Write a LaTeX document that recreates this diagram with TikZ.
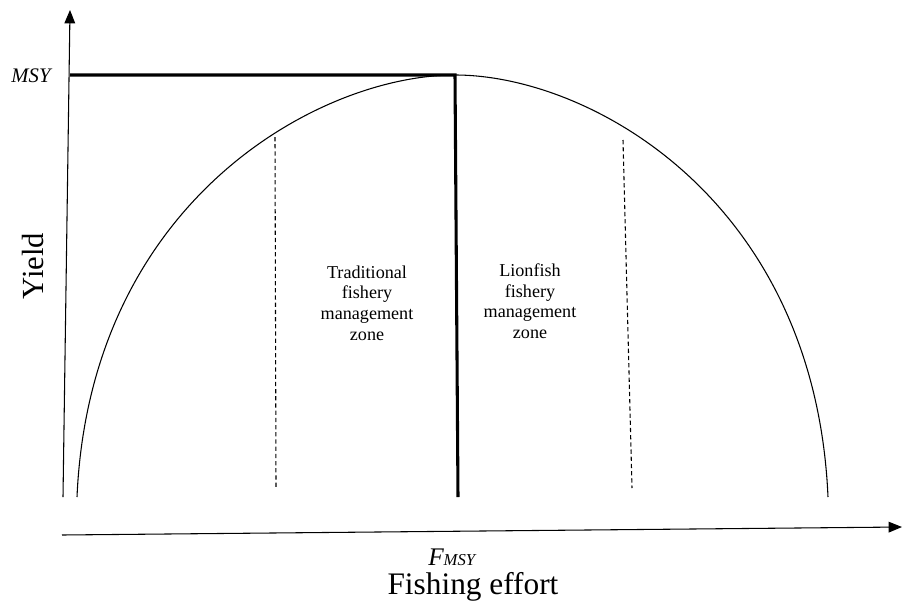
\documentclass[tikz,border=0pt]{standalone}
\usepackage{fontspec}
\setmainfont{Liberation Serif}
\usetikzlibrary{arrows.meta}

\begin{document}
\begin{tikzpicture}[x=0.75pt,y=-0.75pt,axis/.style={line width=0.8pt,-{Triangle[length=10pt,width=8pt]}},thick line/.style={line width=2.3pt},yield curve/.style={line width=0.8pt},zone edge/.style={line width=0.8pt,dash pattern=on 3.2pt off 2.2pt},zone/.style={align=center,font=\fontsize{13.6}{15.4}\selectfont}]
\useasboundingbox (0,0) rectangle (903,611);
\coordinate (Y0) at (63,497);
\coordinate (Y1) at (70,10);
\coordinate (X0) at (62,535);
\coordinate (X1) at (902,527);
\coordinate (M) at (70,75);
\coordinate (P) at (455,75);
\coordinate (Q) at (458,497);
\coordinate (L) at (77,497);
\coordinate (R) at (828,497);
\coordinate (T1) at (275,137);
\coordinate (T2) at (276,487);
\coordinate (F1) at (623,140);
\coordinate (F2) at (632,488);
\draw[axis] (Y0) -- (Y1);
\draw[axis] (X0) -- (X1);
\draw[yield curve] (L) .. controls (90,200) and (320,75) .. (P);
\draw[yield curve] (P) .. controls (590,75) and (815,200) .. (R);
\draw[thick line] (M) -- (P) -- (Q);
\draw[zone edge] (T1) -- (T2);
\draw[zone edge] (F1) -- (F2);
\node[anchor=base,font=\fontsize{15.5}{15.5}\selectfont\itshape] (msy) at (31,82) {MSY};
\node[anchor=base,rotate=90,font=\fontsize{23}{23}\selectfont] (yield) at (43,266) {Yield};
\node[anchor=base west,inner sep=0pt,font=\fontsize{19}{19}\selectfont\itshape] (fmsy) at (428,565) {F{\fontsize{12.5}{12.5}\selectfont MSY}};
\node[anchor=base,inner sep=0pt,font=\fontsize{23.5}{23.5}\selectfont] (effort) at (473,594) {Fishing effort};
\node[zone] (trad) at (367,303) {Traditional\\fishery\\management\\zone};
\node[zone] (lion) at (530,301) {Lionfish\\fishery\\management\\zone};
\end{tikzpicture}
\end{document}
